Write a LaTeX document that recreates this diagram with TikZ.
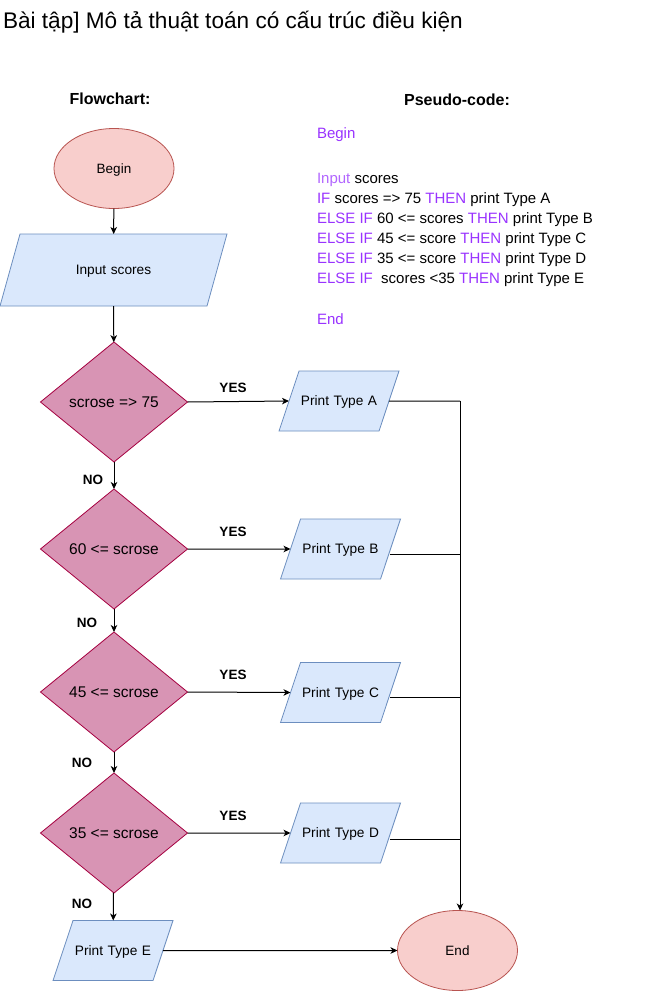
\documentclass[tikz,border=0pt]{standalone}
\usepackage{fontspec}
\setmainfont{Liberation Sans}
\usetikzlibrary{shapes.geometric,arrows.meta,calc}
\definecolor{kw}{HTML}{9933FF}
\definecolor{kwl}{HTML}{B266FF}
\definecolor{termfill}{HTML}{F8CECC}
\definecolor{termline}{HTML}{B85450}
\definecolor{iofill}{HTML}{DAE8FC}
\definecolor{ioline}{HTML}{6C8EBF}
\definecolor{decfill}{HTML}{D894B4}
\definecolor{decline}{HTML}{A50040}
\begin{document}
\begin{tikzpicture}[x=1pt,y=-1pt,
  every node/.style={inner sep=0pt, outer sep=0pt},
  term/.style={ellipse, draw=termline, fill=termfill, line width=0.8pt, minimum width=120pt, minimum height=80pt, text height=9.7pt, text depth=0pt, font=\fontsize{13.5}{16}\selectfont},
  io/.style={trapezium, trapezium left angle=71.57, trapezium right angle=108.43, draw=ioline, fill=iofill, line width=0.8pt, inner xsep=0pt, inner ysep=25.15pt, text width=80pt, align=center, text height=9.7pt, text depth=0pt, font=\fontsize{13.7}{16}\selectfont},
  dec/.style={diamond, draw=decline, fill=decfill, line width=0.8pt, minimum width=147pt, minimum height=120pt, text height=11pt, text depth=0pt, font=\fontsize{15.5}{18}\selectfont},
  lbl/.style={font=\fontsize{13.5}{16}\selectfont\bfseries},
  head/.style={font=\fontsize{16}{19}\selectfont\bfseries},
  pc/.style={anchor=base west, font=\fontsize{15}{18}\selectfont},
  arr/.style={line width=1pt, -{Stealth[length=7pt,width=6.5pt,inset=2pt]}},
  ln/.style={line width=1pt}]
\useasboundingbox (0,0) rectangle (654,991);
\fill[white] (0,0) rectangle (654,991);

\node[anchor=base west, font=\fontsize{22.6}{27}\selectfont] (title) at (3,28) {Bài tập] Mô tả thuật toán có cấu trúc điều kiện};

\node[head] (hflow) at (110,99) {Flowchart:};
\node[head] (hpseudo) at (457,100) {Pseudo-code:};

\node[pc] (p1) at (317,138) {\textcolor{kw}{Begin}};
\node[pc] (p2) at (317,183) {\textcolor{kwl}{Input} scores};
\node[pc] (p3) at (317,203) {\textcolor{kw}{IF} scores => 75 \textcolor{kw}{THEN} print Type A};
\node[pc] (p4) at (317,223) {\textcolor{kw}{ELSE IF} 60 <= scores \textcolor{kw}{THEN} print Type B};
\node[pc] (p5) at (317,243) {\textcolor{kw}{ELSE IF} 45 <= score \textcolor{kw}{THEN} print Type C};
\node[pc] (p6) at (317,263) {\textcolor{kw}{ELSE IF} 35 <= score \textcolor{kw}{THEN} print Type D};
\node[pc] (p7) at (317,283) {\textcolor{kw}{ELSE IF}\ \ scores <35 \textcolor{kw}{THEN} print Type E};
\node[pc] (p8) at (317,324) {\textcolor{kw}{End}};

\node[term] (begin) at (114,168.5) {Begin};
\node[io, trapezium left angle=74.48, trapezium right angle=105.52, text width=187pt, inner ysep=31.15pt] (input) at (113.5,270) {Input scores};

\node[dec] (d1) at (114,402) {scrose => 75};
\node[dec] (d2) at (114,549) {60 <= scrose};
\node[dec] (d3) at (114,692) {45 <= scrose};
\node[dec] (d4) at (114,833) {35 <= scrose};

\node[io] (pa) at (339,401) {Print Type A};
\node[io] (pb) at (340.5,549) {Print Type B};
\node[io] (pc) at (340.5,692.5) {Print Type C};
\node[io] (pd) at (340.5,833) {Print Type D};
\node[io] (pe) at (113,950.5) {Print Type E};

\node[term] (end) at (457.5,950.5) {End};

\node[lbl] (y1) at (233,388) {YES};
\node[lbl] (y2) at (233,532) {YES};
\node[lbl] (y3) at (233,675) {YES};
\node[lbl] (y4) at (233,816) {YES};
\node[lbl] (n1) at (93,480) {NO};
\node[lbl] (n2) at (87,623) {NO};
\node[lbl] (n3) at (82,763) {NO};
\node[lbl] (n4) at (82,904) {NO};

\coordinate (j1) at (460,401);

\draw[arr] (begin) -- (input);
\draw[arr] (input) -- (d1);
\draw[arr] (d1) -- (d2);
\draw[arr] (d2) -- (d3);
\draw[arr] (d3) -- (d4);
\draw[arr] (d4) -- (pe);

\draw[arr] (d1.east) -- (pa.west);
\draw[arr] (d2.east) -- (pb.west);
\draw[arr] (d3.east) -- (pc.west);
\draw[arr] (d4.east) -- (pd.west);

\draw[ln] (pa.east) -- (j1);
\draw[arr] (j1) -- (j1 |- end.north);
\draw[ln] ([yshift=-5pt]pb.east) -- ([yshift=-5pt]pb.east -| j1);
\draw[ln] ([yshift=-5pt]pc.east) -- ([yshift=-5pt]pc.east -| j1);
\draw[ln] ([yshift=-6pt]pd.east) -- ([yshift=-6pt]pd.east -| j1);

\draw[arr] (pe.east) -- (end.west);
\end{tikzpicture}
\end{document}
